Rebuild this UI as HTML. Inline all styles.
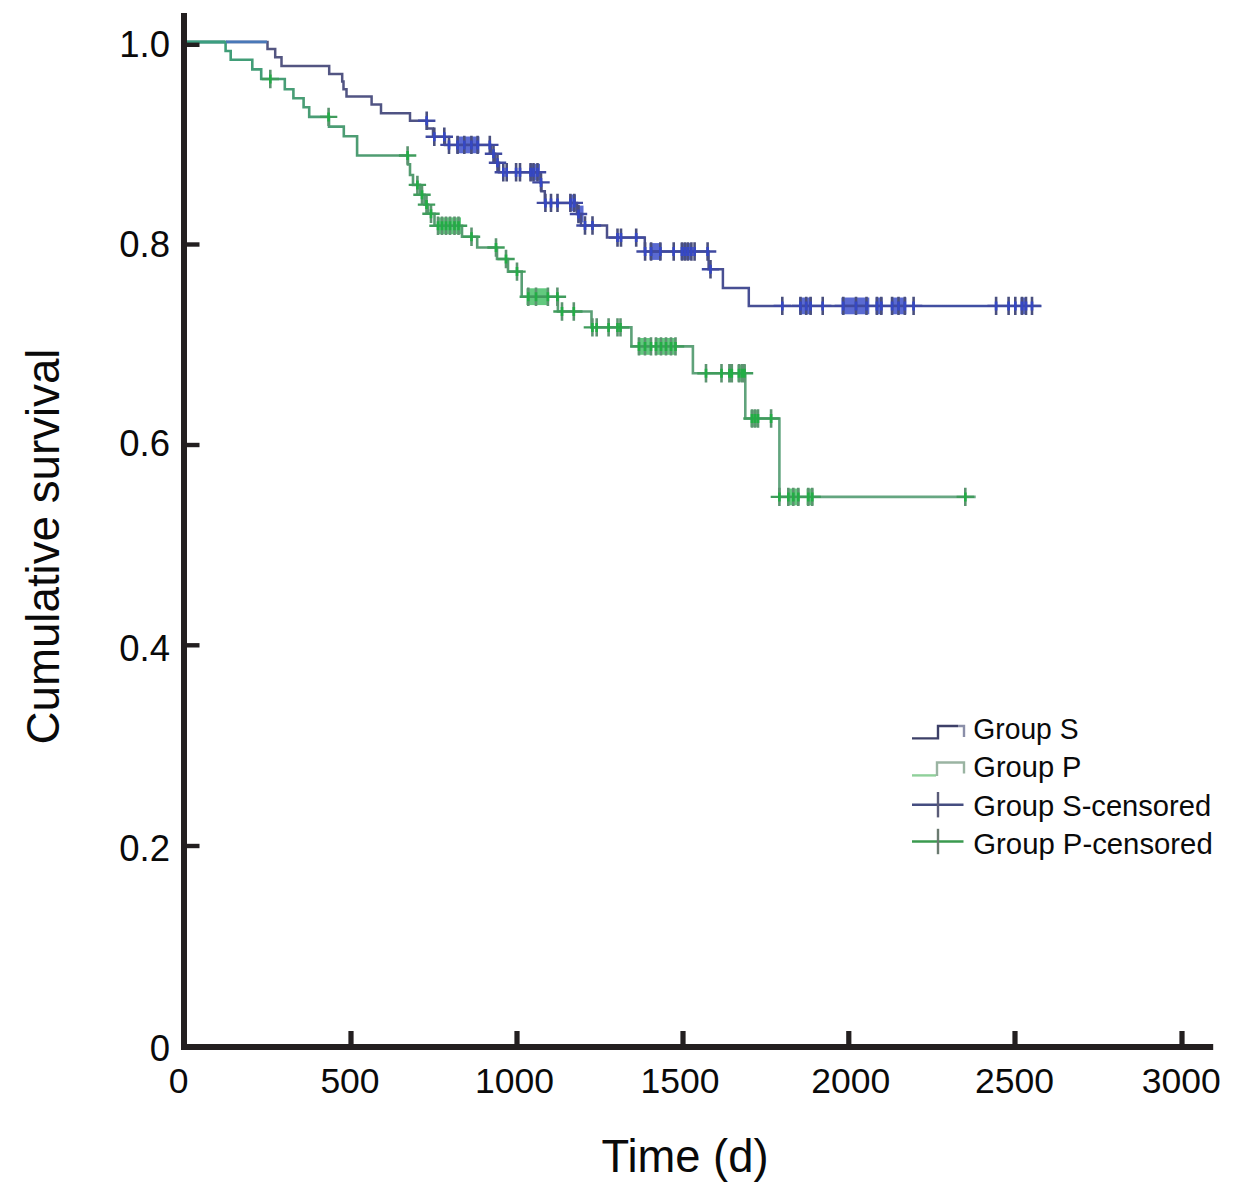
<!DOCTYPE html>
<html><head><meta charset="utf-8"><title>Cumulative survival</title>
<style>html,body{margin:0;padding:0;background:#fff;}svg{display:block;}</style>
</head><body>
<svg width="1260" height="1187" viewBox="0 0 1260 1187">
<defs><filter id="b" x="0" y="0" width="1260" height="1187" filterUnits="userSpaceOnUse"><feGaussianBlur stdDeviation="0.7"/></filter><linearGradient id="gb" gradientUnits="userSpaceOnUse" x1="187" y1="0" x2="1042" y2="0"><stop offset="0" stop-color="#55577f"/><stop offset="0.45" stop-color="#4c5088"/><stop offset="1" stop-color="#3f4fa8"/></linearGradient><linearGradient id="gg" gradientUnits="userSpaceOnUse" x1="187" y1="0" x2="976" y2="0"><stop offset="0" stop-color="#3c9e7a"/><stop offset="0.3" stop-color="#559c70"/><stop offset="1" stop-color="#68a884"/></linearGradient></defs>
<rect width="1260" height="1187" fill="#fff"/>
<g fill="none" filter="url(#b)">
<g fill="#5a6bd2" stroke="none"><rect x="456.2" y="136.5" width="23.3" height="16.8"/><rect x="529.5" y="163.8" width="10.5" height="16.8"/><rect x="569.5" y="194.5" width="6.5" height="16.8"/><rect x="577.3" y="205.6" width="6.2" height="16.8"/><rect x="649.5" y="243.1" width="12.1" height="16.8"/><rect x="680.6" y="243.1" width="11.4" height="16.8"/><rect x="799" y="297.5" width="13.0" height="16.8"/><rect x="841.3" y="297.5" width="28.0" height="16.8"/><rect x="875.6" y="297.5" width="7.0" height="16.8"/><rect x="890.9" y="297.5" width="15.5" height="16.8"/><rect x="1020.5" y="297.5" width="6.5" height="16.8"/></g>
<g fill="#62c97e" stroke="none"><rect x="437" y="217.4" width="24.0" height="16.8"/><rect x="526.4" y="288.3" width="22.4" height="16.8"/><rect x="637.8" y="338.0" width="13.9" height="16.8"/><rect x="654.7" y="338.0" width="21.4" height="16.8"/><rect x="737.5" y="364.9" width="8.5" height="16.8"/><rect x="750.5" y="410.1" width="8.5" height="16.8"/><rect x="787" y="488.5" width="12.5" height="16.8"/><rect x="806.5" y="488.5" width="7.0" height="16.8"/></g>
<path d="M187 42 H267.5 V49 H275.2 V57.3 H281.5 V65.9 H329.2 V74 H342.2 V81.6 H343.5 V89.2 H346.5 V96.6 H371.6 V104.5 H381 V113.3 H410 V120.7 H427 V128.6 H433 V136.7 H445 V144.9 H491 V153.8 H495 V162.7 H499 V172.2 H540.6 V182.4 H541.4 V191.2 H544.8 V202.9 H577 V214 H581 V225.5 H607 V237.6 H644.8 V251.5 H708.6 V269.2 H722.9 V287.9 H748.8 V305.9 H1041.5" stroke="url(#gb)" stroke-width="2.5"/>
<path d="M426.7 111.5V129.9M434.3 127.49999999999999V145.89999999999998M444.3 127.49999999999999V145.89999999999998M449 135.70000000000002V154.1M457.6 135.70000000000002V154.1M464.3 135.70000000000002V154.1M471.4 135.70000000000002V154.1M477.6 135.70000000000002V154.1M489.8 135.70000000000002V154.1M493.5 144.60000000000002V163.0M497.5 153.5V171.89999999999998M503.3 163.0V181.39999999999998M506.7 163.0V181.39999999999998M516.1 163.0V181.39999999999998M520 163.0V181.39999999999998M530.6 163.0V181.39999999999998M533.5 163.0V181.39999999999998M537.5 163.0V181.39999999999998M541 173.20000000000002V191.6M545.4 193.70000000000002V212.1M551 193.70000000000002V212.1M557.5 193.70000000000002V212.1M570.4 193.70000000000002V212.1M574.3 193.70000000000002V212.1M578.5 204.8V223.2M585 216.3V234.7M592.5 216.3V234.7M617.5 228.4V246.79999999999998M621 228.4V246.79999999999998M636.2 228.4V246.79999999999998M645.1 242.3V260.7M651.1 242.3V260.7M660.3 242.3V260.7M673.7 242.3V260.7M682 242.3V260.7M685 242.3V260.7M688 242.3V260.7M691.4 242.3V260.7M694.6 242.3V260.7M707.6 242.3V260.7M710.5 260.0V278.4M782.3 296.7V315.09999999999997M800.5 296.7V315.09999999999997M806.2 296.7V315.09999999999997M810.6 296.7V315.09999999999997M822.7 296.7V315.09999999999997M843.3 296.7V315.09999999999997M856 296.7V315.09999999999997M866.5 296.7V315.09999999999997M876.9 296.7V315.09999999999997M881.3 296.7V315.09999999999997M892.1 296.7V315.09999999999997M898.5 296.7V315.09999999999997M904.8 296.7V315.09999999999997M913.6 296.7V315.09999999999997M996.1 296.7V315.09999999999997M1008.6 296.7V315.09999999999997M1015.3 296.7V315.09999999999997M1022 296.7V315.09999999999997M1026 296.7V315.09999999999997M1032 296.7V315.09999999999997" stroke="#4a4f7e" stroke-width="2.6"/>
<path d="M418.0 120.7H435.4M425.6 136.7H443.0M435.6 136.7H453.0M440.3 144.9H457.7M448.90000000000003 144.9H466.3M455.6 144.9H473.0M462.7 144.9H480.09999999999997M468.90000000000003 144.9H486.3M481.1 144.9H498.5M484.8 153.8H502.2M488.8 162.7H506.2M494.6 172.2H512.0M498.0 172.2H515.4M507.40000000000003 172.2H524.8000000000001M511.3 172.2H528.7M521.9 172.2H539.3000000000001M524.8 172.2H542.2M528.8 172.2H546.2M532.3 182.4H549.7M536.6999999999999 202.9H554.1M542.3 202.9H559.7M548.8 202.9H566.2M561.6999999999999 202.9H579.1M565.5999999999999 202.9H583.0M569.8 214H587.2M576.3 225.5H593.7M583.8 225.5H601.2M608.8 237.6H626.2M612.3 237.6H629.7M627.5 237.6H644.9000000000001M636.4 251.5H653.8000000000001M642.4 251.5H659.8000000000001M651.5999999999999 251.5H669.0M665.0 251.5H682.4000000000001M673.3 251.5H690.7M676.3 251.5H693.7M679.3 251.5H696.7M682.6999999999999 251.5H700.1M685.9 251.5H703.3000000000001M698.9 251.5H716.3000000000001M701.8 269.2H719.2M773.5999999999999 305.9H791.0M791.8 305.9H809.2M797.5 305.9H814.9000000000001M801.9 305.9H819.3000000000001M814.0 305.9H831.4000000000001M834.5999999999999 305.9H852.0M847.3 305.9H864.7M857.8 305.9H875.2M868.1999999999999 305.9H885.6M872.5999999999999 305.9H890.0M883.4 305.9H900.8000000000001M889.8 305.9H907.2M896.0999999999999 305.9H913.5M904.9 305.9H922.3000000000001M987.4 305.9H1004.8000000000001M999.9 305.9H1017.3000000000001M1006.5999999999999 305.9H1024.0M1013.3 305.9H1030.7M1017.3 305.9H1034.7M1023.3 305.9H1040.7" stroke="#3f4aa0" stroke-width="2.4"/>
<path d="M426.7 116.2V125.2M434.3 132.2V141.2M444.3 132.2V141.2M449 140.4V149.4M457.6 140.4V149.4M464.3 140.4V149.4M471.4 140.4V149.4M477.6 140.4V149.4M489.8 140.4V149.4M493.5 149.3V158.3M497.5 158.2V167.2M503.3 167.7V176.7M506.7 167.7V176.7M516.1 167.7V176.7M520 167.7V176.7M530.6 167.7V176.7M533.5 167.7V176.7M537.5 167.7V176.7M541 177.9V186.9M545.4 198.4V207.4M551 198.4V207.4M557.5 198.4V207.4M570.4 198.4V207.4M574.3 198.4V207.4M578.5 209.5V218.5M585 221.0V230.0M592.5 221.0V230.0M617.5 233.1V242.1M621 233.1V242.1M636.2 233.1V242.1M645.1 247.0V256.0M651.1 247.0V256.0M660.3 247.0V256.0M673.7 247.0V256.0M682 247.0V256.0M685 247.0V256.0M688 247.0V256.0M691.4 247.0V256.0M694.6 247.0V256.0M707.6 247.0V256.0M710.5 264.7V273.7M782.3 301.4V310.4M800.5 301.4V310.4M806.2 301.4V310.4M810.6 301.4V310.4M822.7 301.4V310.4M843.3 301.4V310.4M856 301.4V310.4M866.5 301.4V310.4M876.9 301.4V310.4M881.3 301.4V310.4M892.1 301.4V310.4M898.5 301.4V310.4M904.8 301.4V310.4M913.6 301.4V310.4M996.1 301.4V310.4M1008.6 301.4V310.4M1015.3 301.4V310.4M1022 301.4V310.4M1026 301.4V310.4M1032 301.4V310.4" stroke="#3446c4" stroke-width="2.6"/>
<path d="M187 42 H225.6 V51 H230.7 V59.8 H252.3 V69.4 H261.2 V79 H284.8 V89.2 H293.4 V98.3 H303.6 V107.3 H309.2 V116.9 H329 V126.6 H343.8 V136.2 H357.1 V155.5 H408 V164.4 H410 V175 H413 V184.9 H420 V194.7 H424.5 V204.6 H428 V213.7 H434.5 V225.8 H462 V236.8 H477.2 V247.5 H497 V259 H508 V271.6 H521.7 V296.7 H557.9 V311.5 H591.5 V327.4 H631.4 V346.4 H692.9 V373.3 H745.3 V418.5 H779.4 V496.9 H975.7" stroke="url(#gg)" stroke-width="2.6"/>
<path d="M270.3 69.8V88.2M328.6 107.7V126.10000000000001M407.6 146.3V164.7M417.4 175.70000000000002V194.1M422 185.5V203.89999999999998M426.5 195.4V213.79999999999998M431 204.5V222.89999999999998M438 216.60000000000002V235.0M442 216.60000000000002V235.0M446 216.60000000000002V235.0M450 216.60000000000002V235.0M454.5 216.60000000000002V235.0M458.5 216.60000000000002V235.0M471.5 227.60000000000002V246.0M496 238.3V256.7M506 249.8V268.2M517 262.40000000000003V280.8M528.3 287.5V305.9M536 287.5V305.9M547.9 287.5V305.9M557.4 287.5V305.9M562 302.3V320.7M573.8 302.3V320.7M592.4 318.2V336.59999999999997M596.7 318.2V336.59999999999997M608.6 318.2V336.59999999999997M617.5 318.2V336.59999999999997M620.5 318.2V336.59999999999997M639 337.2V355.59999999999997M645 337.2V355.59999999999997M651 337.2V355.59999999999997M656 337.2V355.59999999999997M661 337.2V355.59999999999997M666 337.2V355.59999999999997M671 337.2V355.59999999999997M675.5 337.2V355.59999999999997M706 364.1V382.5M721.5 364.1V382.5M729.4 364.1V382.5M731.8 364.1V382.5M739 364.1V382.5M742 364.1V382.5M744.5 364.1V382.5M752 409.3V427.7M755 409.3V427.7M758 409.3V427.7M771.1 409.3V427.7M779.4 487.7V506.09999999999997M788.3 487.7V506.09999999999997M793.3 487.7V506.09999999999997M798.3 487.7V506.09999999999997M808.3 487.7V506.09999999999997M812.2 487.7V506.09999999999997M965.3 487.7V506.09999999999997" stroke="#5c9470" stroke-width="2.6"/>
<path d="M261.6 79H279.0M319.90000000000003 116.9H337.3M398.90000000000003 155.5H416.3M408.7 184.9H426.09999999999997M413.3 194.7H430.7M417.8 204.6H435.2M422.3 213.7H439.7M429.3 225.8H446.7M433.3 225.8H450.7M437.3 225.8H454.7M441.3 225.8H458.7M445.8 225.8H463.2M449.8 225.8H467.2M462.8 236.8H480.2M487.3 247.5H504.7M497.3 259H514.7M508.3 271.6H525.7M519.5999999999999 296.7H537.0M527.3 296.7H544.7M539.1999999999999 296.7H556.6M548.6999999999999 296.7H566.1M553.3 311.5H570.7M565.0999999999999 311.5H582.5M583.6999999999999 327.4H601.1M588.0 327.4H605.4000000000001M599.9 327.4H617.3000000000001M608.8 327.4H626.2M611.8 327.4H629.2M630.3 346.4H647.7M636.3 346.4H653.7M642.3 346.4H659.7M647.3 346.4H664.7M652.3 346.4H669.7M657.3 346.4H674.7M662.3 346.4H679.7M666.8 346.4H684.2M697.3 373.3H714.7M712.8 373.3H730.2M720.6999999999999 373.3H738.1M723.0999999999999 373.3H740.5M730.3 373.3H747.7M733.3 373.3H750.7M735.8 373.3H753.2M743.3 418.5H760.7M746.3 418.5H763.7M749.3 418.5H766.7M762.4 418.5H779.8000000000001M770.6999999999999 496.9H788.1M779.5999999999999 496.9H797.0M784.5999999999999 496.9H802.0M789.5999999999999 496.9H807.0M799.5999999999999 496.9H817.0M803.5 496.9H820.9000000000001M956.5999999999999 496.9H974.0" stroke="#3f9c5c" stroke-width="2.4"/>
<path d="M270.3 74.5V83.5M328.6 112.4V121.4M407.6 151.0V160.0M417.4 180.4V189.4M422 190.2V199.2M426.5 200.1V209.1M431 209.2V218.2M438 221.3V230.3M442 221.3V230.3M446 221.3V230.3M450 221.3V230.3M454.5 221.3V230.3M458.5 221.3V230.3M471.5 232.3V241.3M496 243.0V252.0M506 254.5V263.5M517 267.1V276.1M528.3 292.2V301.2M536 292.2V301.2M547.9 292.2V301.2M557.4 292.2V301.2M562 307.0V316.0M573.8 307.0V316.0M592.4 322.9V331.9M596.7 322.9V331.9M608.6 322.9V331.9M617.5 322.9V331.9M620.5 322.9V331.9M639 341.9V350.9M645 341.9V350.9M651 341.9V350.9M656 341.9V350.9M661 341.9V350.9M666 341.9V350.9M671 341.9V350.9M675.5 341.9V350.9M706 368.8V377.8M721.5 368.8V377.8M729.4 368.8V377.8M731.8 368.8V377.8M739 368.8V377.8M742 368.8V377.8M744.5 368.8V377.8M752 414.0V423.0M755 414.0V423.0M758 414.0V423.0M771.1 414.0V423.0M779.4 492.4V501.4M788.3 492.4V501.4M793.3 492.4V501.4M798.3 492.4V501.4M808.3 492.4V501.4M812.2 492.4V501.4M965.3 492.4V501.4" stroke="#22ad44" stroke-width="2.6"/>
<path d="M226 41.9H267" stroke="#4a78b8" stroke-width="2.6"/>
<path d="M187 41.9H225" stroke="#3a9e80" stroke-width="3"/>
</g>
<g fill="#231f20">
<rect x="181" y="13" width="6" height="1037"/>
<rect x="181" y="1044" width="1032.2" height="6"/>
<rect x="187" y="42.6" width="12.5" height="4.4"/>
<rect x="187" y="242.3" width="12.5" height="4.4"/>
<rect x="187" y="442.8" width="12.5" height="4.4"/>
<rect x="187" y="643.1" width="12.5" height="4.4"/>
<rect x="187" y="843.8" width="12.5" height="4.4"/>
<rect x="348.4" y="1031" width="5.2" height="14"/>
<rect x="514.4" y="1031" width="5.2" height="14"/>
<rect x="680.4" y="1031" width="5.2" height="14"/>
<rect x="846.2" y="1031" width="5.2" height="14"/>
<rect x="1012.4" y="1031" width="5.2" height="14"/>
<rect x="1179.4" y="1031" width="5.2" height="14"/>
</g>
<g font-family="Liberation Sans, Arial, sans-serif" fill="#0a0a0a">
<text x="170" y="57.1" font-size="36.5" text-anchor="end">1.0</text>
<text x="170" y="257.1" font-size="36.5" text-anchor="end">0.8</text>
<text x="170" y="456.2" font-size="36.5" text-anchor="end">0.6</text>
<text x="170" y="661.1" font-size="36.5" text-anchor="end">0.4</text>
<text x="170" y="861.1" font-size="36.5" text-anchor="end">0.2</text>
<text x="170" y="1061" font-size="36.5" text-anchor="end">0</text>
<text x="178.7" y="1093.2" font-size="35.5" text-anchor="middle">0</text>
<text x="350" y="1093.2" font-size="35.5" text-anchor="middle">500</text>
<text x="514.6" y="1093.2" font-size="35.5" text-anchor="middle">1000</text>
<text x="680" y="1093.2" font-size="35.5" text-anchor="middle">1500</text>
<text x="850.8" y="1093.2" font-size="35.5" text-anchor="middle">2000</text>
<text x="1014.6" y="1093.2" font-size="35.5" text-anchor="middle">2500</text>
<text x="1181.2" y="1093.2" font-size="35.5" text-anchor="middle">3000</text>
<text x="601.5" y="1172" font-size="45.5" textLength="167" lengthAdjust="spacingAndGlyphs">Time (d)</text>
<text transform="translate(58.9 744.5) rotate(-90)" x="0" y="0" font-size="46" textLength="396" lengthAdjust="spacingAndGlyphs">Cumulative survival</text>
<text x="973.3" y="738.7" font-size="29.8" textLength="105.2" lengthAdjust="spacingAndGlyphs">Group S</text>
<text x="973.3" y="776.6" font-size="29.8" textLength="108.2" lengthAdjust="spacingAndGlyphs">Group P</text>
<text x="973.3" y="815.5" font-size="29.8" textLength="237.8" lengthAdjust="spacingAndGlyphs">Group S-censored</text>
<text x="973.3" y="854.1" font-size="29.8" textLength="239.4" lengthAdjust="spacingAndGlyphs">Group P-censored</text>
</g>
<g fill="none" stroke-width="2.4" filter="url(#b)">
<path d="M912 738.4H938V726H958" stroke="#3d4068"/><path d="M958 726H964V737" stroke="#8a8ea8"/>
<path d="M912 775.4H936" stroke="#8fd09a"/><path d="M937 776V762.5H964V773.5" stroke="#9ab4a2"/>
<path d="M912 804.7H963.5" stroke="#454d80"/><path d="M938 792V817.4" stroke="#5a5c78"/>
<path d="M912 841.5H963.5" stroke="#3a9a50"/><path d="M938 828.8V854.2" stroke="#6a7a70"/>
</g>
</svg>
</body></html>
